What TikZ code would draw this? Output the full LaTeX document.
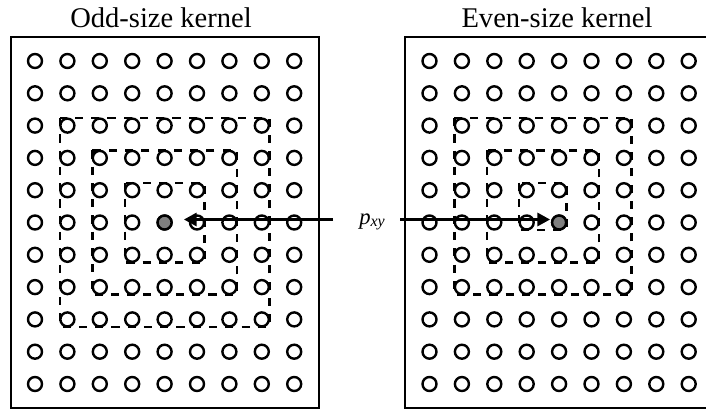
\documentclass[tikz,border=0pt]{standalone}
\usepackage{fontspec}
\setmainfont{Liberation Serif}
\usetikzlibrary{arrows.meta}
\tikzset{
  ring/.style={line width=1.8pt},
  frame/.style={line width=2.2pt},
  win/.style={line width=1.8pt, dash pattern=on 6.1pt off 6.1pt},
  pointer/.style={line width=1.7pt, -{Triangle[length=9.5pt,width=10pt]}},
  title/.style={anchor=base, inner sep=0pt, font=\fontsize{21.4}{25}\selectfont},
  pix/.style={circle, draw, fill=black!50, line width=1.8pt, inner sep=0pt, minimum size=10.5pt},
}
\begin{document}
\begin{tikzpicture}[x=0.75pt,y=-0.75pt]
\useasboundingbox (0,0) rectangle (706,411);

% panel titles
\node[title] (oddt) at (161,27.5) {Odd-size kernel};
\node[title] (event) at (557,27.5) {Even-size kernel};

% outer frames (the right one runs past the page edge)
\draw[frame] (11,37) rectangle (319,408);
\draw[frame] (706,37) -- (405,37) -- (405,408) -- (706,408);

% 11 x 9 pixel grids
\foreach \i in {0,...,10}
  \foreach \j in {0,...,8} {
    \draw[ring] ({35+32.4*\j},{61+32.3*\i}) circle[radius=7];
    \draw[ring] ({429.5+32.4*\j},{61+32.3*\i}) circle[radius=7];
  }

% nested kernel windows: origin / first col / last col / first row / last row
\foreach \ox/\ca/\cb/\ra/\rb in {35/1/7/2/8, 35/2/6/3/7, 35/3/5/4/6,
                                  429.5/1/6/2/7, 429.5/2/5/3/6, 429.5/3/4/4/5}
  \draw[win] ({\ox+32.4*\ca-7.5},{61+32.3*\ra-7.5})
        rectangle ({\ox+32.4*\cb+7.5},{61+32.3*\rb+7.5});

% the output pixel in each grid
\node[pix] (podd) at ({35+32.4*4},{61+32.3*5}) {};
\node[pix] (peven) at ({429.5+32.4*4},{61+32.3*5}) {};

% label and pointers
\node[anchor=base west, inner sep=0pt] (pxy) at (359,224)
  {\fontsize{17}{20}\selectfont\textit{p}\raisebox{-2pt}{\fontsize{12}{14}\selectfont\textit{xy}}};
\coordinate (lfrom) at (333,219.5);
\coordinate (lto) at (184,219.5);
\coordinate (rfrom) at (400,219.5);
\coordinate (rto) at (550,219.5);
\draw[pointer] (lfrom) -- (lto);
\draw[pointer] (rfrom) -- (rto);
\end{tikzpicture}
\end{document}
